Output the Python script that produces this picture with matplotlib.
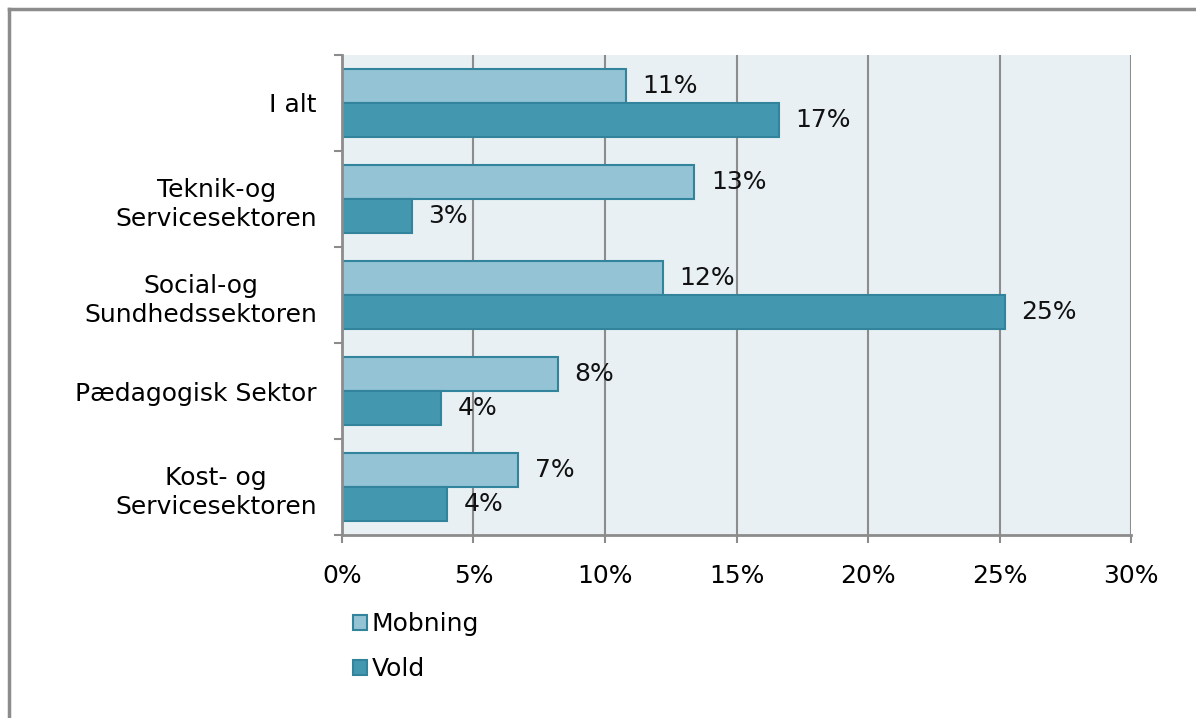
import matplotlib
matplotlib.use("Agg")
import matplotlib.pyplot as plt
import numpy as np
from matplotlib.patches import Patch
from matplotlib.lines import Line2D

categories = ["I alt", "Teknik-og\nServicesektoren", "Social-og\nSundhedssektoren",
              "Pædagogisk Sektor", "Kost- og\nServicesektoren"]
mobning = [10.8, 13.4, 12.2, 8.2, 6.7]
vold = [16.6, 2.66, 25.2, 3.76, 4.0]
series_names = ["Mobning", "Vold"]
xticks = [0, 5, 10, 15, 20, 25, 30]

c_mob = "#93C3D4"
c_vold = "#4398B0"
c_edge = "#31849B"
c_grid = "#8C8C8C"
c_bg = "#E8F0F4"
fs = 18

plt.rcParams['font.family'] = ['DejaVu Sans']
fig = plt.figure(figsize=(11.96, 7.18), dpi=100)
ax = fig.add_axes([342/1196, 1-535/718, (1131-342)/1196, (535-55)/718])
ax.set_facecolor(c_bg)

n = len(categories)
y = np.arange(n)
h = 0.35
ax.barh(y - h/2, mobning, height=h, color=c_mob, edgecolor=c_edge, linewidth=1.5, zorder=3)
ax.barh(y + h/2, vold, height=h, color=c_vold, edgecolor=c_edge, linewidth=1.5, zorder=3)

for i in range(n):
    ax.annotate(f"{round(mobning[i]):d}%", (mobning[i], y[i] - h/2), xytext=(12, 0),
                textcoords="offset points", va="center", ha="left", fontsize=fs, color="#111111")
    ax.annotate(f"{round(vold[i]):d}%", (vold[i], y[i] + h/2), xytext=(12, 0),
                textcoords="offset points", va="center", ha="left", fontsize=fs, color="#111111")

ax.set_xlim(0, 30)
ax.set_ylim(n - 0.5, -0.5)
ax.set_xticks(xticks)
ax.set_xticklabels([f"{t}%" for t in xticks], fontsize=fs)
ax.set_yticks(y)
ax.set_yticklabels(categories, fontsize=fs, multialignment="center", linespacing=1.3)
ax.set_yticks(np.arange(n + 1) - 0.5, minor=True)
ax.tick_params(axis="y", which="major", length=0, pad=18)
ax.tick_params(axis="y", which="minor", length=6, width=1.5, color=c_grid, direction="out")
ax.tick_params(axis="x", which="major", length=6, width=1.5, color=c_grid, pad=15)

ax.grid(axis="x", color=c_grid, linewidth=1.5, zorder=1)
ax.set_axisbelow(True)
for s in ["top", "right"]:
    ax.spines[s].set_visible(False)
for s in ["left", "bottom"]:
    ax.spines[s].set_color(c_grid)
    ax.spines[s].set_linewidth(2)
    ax.spines[s].set_zorder(4)

handles = [Patch(facecolor=c_mob, edgecolor=c_edge, linewidth=1.5),
           Patch(facecolor=c_vold, edgecolor=c_edge, linewidth=1.5)]
fig.legend(handles, series_names, loc="upper left", bbox_to_anchor=(353/1196, 1-612/718),
           frameon=False, fontsize=fs, handlelength=0.55, handleheight=0.55,
           handletextpad=0.2, labelspacing=0.85, borderaxespad=0, borderpad=0)

fig.add_artist(Line2D([9/1196, 9/1196], [0, 1-9/718], color=c_grid, linewidth=2.5))
fig.add_artist(Line2D([9/1196, 1], [1-9/718, 1-9/718], color=c_grid, linewidth=2.5))

fig.savefig("out.png", dpi=100, facecolor="white")
